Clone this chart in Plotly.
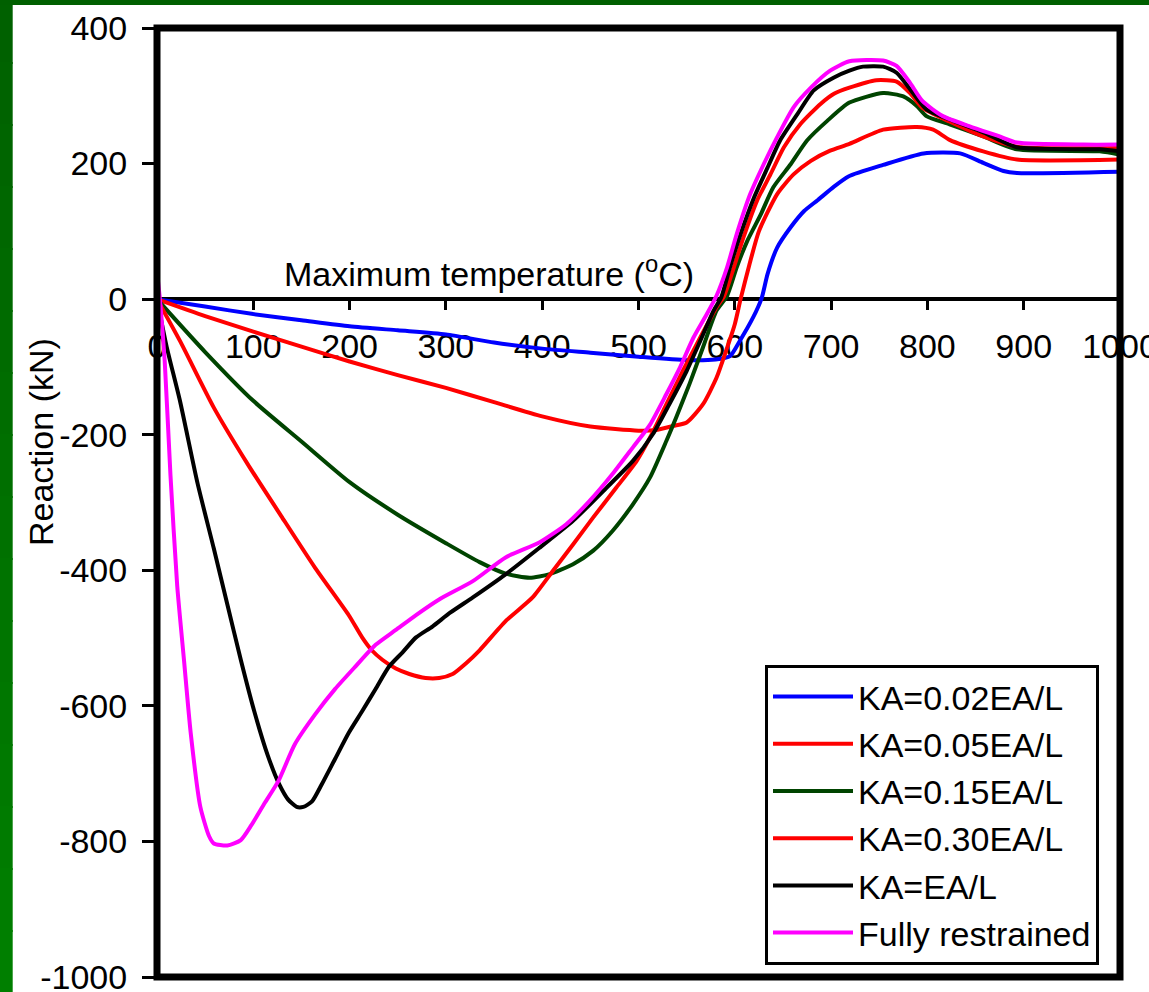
import plotly.graph_objects as go

# ---------------- data ----------------
temp_ticks = [0, 100, 200, 300, 400, 500, 600, 700, 800, 900, 1000]
reaction_ticks = [-1000, -800, -600, -400, -200, 0, 200, 400]

names = ["KA=0.02EA/L", "KA=0.05EA/L", "KA=0.15EA/L", "KA=0.30EA/L", "KA=EA/L", "Fully restrained"]
colors = ["#0000FF", "#FF0000", "#004400", "#FF0000", "#000000", "#FF00FF"]

ka002_x = [0, 50, 100, 150, 200, 250, 300, 350, 400, 450, 500, 550, 580, 595, 605, 619, 628, 634, 644, 658,
           672, 686, 703, 718, 754, 796, 834, 858, 879, 893, 1000]
ka002_y = [0, -11, -22, -31, -40, -46, -52, -64, -73, -79, -85, -90, -89, -84, -62, -27, 2, 37, 76, 106,
           130, 146, 166, 181, 198, 215, 215, 201, 189, 186, 188]

ka005_x = [0, 50, 100, 150, 200, 250, 300, 350, 400, 450, 500, 518, 536, 550, 567, 581, 591, 600,
           606, 615, 625, 644, 661, 679, 699, 719, 754, 789, 806, 823, 858, 893, 1000]
ka005_y = [0, -25, -48, -70, -92, -112, -131, -152, -173, -188, -194, -193, -187, -182, -155, -116, -76, -37,
           0, 50, 100, 155, 184, 204, 219, 229, 250, 254, 250, 235, 218, 206, 206]

ka015_x = [0, 50, 100, 150, 200, 250, 300, 335, 362, 387, 407, 432, 453, 473, 494, 512, 529, 539, 553, 567,
           581, 592, 602, 613, 627, 640, 658, 675, 696, 719, 754, 775, 789, 799, 823, 858, 893, 979, 1000]
ka015_y = [0, -78, -150, -210, -270, -318, -360, -388, -405, -411, -406, -391, -371, -342, -303, -263, -209, -175, -125, -71,
           -17, 5, 47, 86, 125, 165, 199, 234, 263, 290, 304, 299, 285, 270, 258, 240, 221, 218, 213]

ka030_x = [0, 24, 59, 94, 129, 164, 199, 213, 223, 234, 248, 262, 279, 293, 307, 321, 335, 362, 390, 411,
           432, 453, 477, 498, 512, 529, 546, 564, 581, 589, 599, 609, 623, 637, 651, 668, 689, 703, 719, 747,
           768, 782, 795, 823, 858, 893, 1000]
ka030_y = [0, -62, -160, -243, -320, -396, -466, -499, -518, -532, -545, -553, -559, -559, -553, -537, -518, -475, -440, -401,
           -362, -322, -278, -239, -204, -155, -106, -57, -12, 5, 47, 91, 145, 184, 224, 258, 288, 303, 312, 323,
           321, 304, 282, 262, 240, 225, 223]

ka1_x = [0, 10, 24, 42, 59, 73, 87, 101, 115, 127, 136, 145, 152, 161, 171, 185, 199, 213, 227, 241,
         255, 269, 286, 304, 328, 362, 397, 432, 467, 494, 515, 532, 550, 564, 578, 586, 595, 606, 620, 634,
         647, 665, 682, 703, 719, 733, 754, 768, 785, 799, 823, 858, 893, 979, 1000]
ka1_y = [0, -70, -151, -271, -368, -450, -532, -608, -673, -716, -738, -749, -749, -741, -716, -678, -640, -608, -575, -542,
         -521, -499, -483, -463, -440, -406, -367, -327, -278, -239, -199, -155, -106, -62, -17, 3, 47, 96, 150, 194,
         234, 273, 308, 327, 337, 343, 343, 334, 304, 280, 265, 246, 224, 221, 218]

full_x = [0, 3, 8, 14, 21, 28, 35, 45, 54, 59, 73, 87, 98, 112, 126, 143, 164, 185, 206, 227,
          248, 269, 293, 328, 362, 397, 425, 449, 473, 494, 512, 529, 543, 557, 571, 581, 592, 602, 616, 630,
          644, 661, 679, 699, 719, 754, 768, 782, 795, 816, 844, 875, 893, 962, 1000]
full_y = [40, 0, -91, -260, -423, -532, -640, -749, -792, -803, -806, -798, -776, -743, -711, -657, -613, -575, -542, -510,
          -488, -466, -443, -416, -381, -359, -332, -298, -258, -219, -185, -140, -101, -57, -22, 5, 47, 96, 155, 199,
          239, 283, 312, 337, 351, 352, 344, 319, 292, 270, 255, 240, 231, 228, 228]

series_x = [ka002_x, ka005_x, ka015_x, ka030_x, ka1_x, full_x]
series_y = [ka002_y, ka005_y, ka015_y, ka030_y, ka1_y, full_y]

# ---------------- layout geometry ----------------
W, H = 1149, 992
ML, MR, MT, MB = 157, 29, 28, 15
PL, PR, PT, PB = ML, W - MR, MT, H - MB
FONT = "Liberation Sans, Arial, sans-serif"
FS = 34


def fx(px):
    return (px - PL) / (PR - PL)


def fy(py):
    return (PB - py) / (PB - PT)


fig = go.Figure()
for nm, col, xs, ys in zip(names, colors, series_x, series_y):
    fig.add_trace(go.Scatter(
        x=xs, y=ys, mode="lines", name=nm, legendgroup=nm,
        line=dict(color=col, width=4, shape="spline", smoothing=0.6),
    ))

shapes = []
# green frame (top band + left band with a vertical gradient)
nseg = 16
for i in range(nseg):
    y0p = H * i / nseg
    y1p = min(H, H * (i + 1) / nseg + 2)
    g = int(0x60 + (0x80 - 0x60) * (i + 0.5) / nseg)
    shapes.append(dict(type="rect", xref="paper", yref="paper", x0=fx(-2), x1=fx(12.7),
                       y0=fy(y1p), y1=fy(y0p), line=dict(width=0),
                       fillcolor="#00%02X00" % g, layer="below"))
shapes.append(dict(type="rect", xref="paper", yref="paper", x0=fx(-2), x1=fx(W + 2), y0=fy(5), y1=fy(-2),
                   line=dict(width=0), fillcolor="#006000", layer="below"))
# thick plot frame
shapes.append(dict(type="rect", xref="paper", yref="paper", x0=0, x1=1, y0=0, y1=1,
                   line=dict(color="black", width=7), layer="above"))

annotations = [
    dict(text="Maximum temperature (<sup>o</sup>C)", xref="paper", yref="y", x=fx(489), y=0,
         xanchor="center", yanchor="bottom", showarrow=False, yshift=4,
         font=dict(family=FONT, size=FS, color="black")),
    dict(text="Reaction (kN)", xref="paper", yref="paper", x=fx(41), y=fy(442), textangle=-90,
         xanchor="center", yanchor="middle", showarrow=False,
         font=dict(family=FONT, size=FS, color="black")),
]

fig.update_layout(
    width=W, height=H, autosize=False,
    margin=dict(l=ML, r=MR, t=MT, b=MB, pad=0, autoexpand=False),
    paper_bgcolor="white", plot_bgcolor="white",
    font=dict(family=FONT, size=FS, color="black"),
    shapes=shapes, annotations=annotations,
    showlegend=True,
    legend=dict(x=fx(765), y=fy(665), xanchor="left", yanchor="top",
                bgcolor="white", bordercolor="black", borderwidth=3,
                font=dict(family=FONT, size=FS, color="black"),
                itemwidth=80, tracegroupgap=4, traceorder="normal"),
    xaxis=dict(range=[0, 1000], anchor="free", position=1000 / 1400, automargin=False,
               tickmode="array", tickvals=temp_ticks, ticktext=[str(v) for v in temp_ticks],
               ticks="outside", ticklen=10, tickwidth=3, tickcolor="black",
               showline=False, showgrid=False, zeroline=False, layer="below traces",
               ticklabelstandoff=7, ticklabeloverflow="allow",
               tickfont=dict(family=FONT, size=FS, color="black")),
    yaxis=dict(range=[-1000, 400], tickmode="array", tickvals=reaction_ticks, automargin=False,
               ticktext=[str(v) for v in reaction_ticks],
               ticks="outside", ticklen=14, tickwidth=2.5, tickcolor="black",
               showline=False, showgrid=False, zeroline=True, zerolinecolor="black", zerolinewidth=4,
               ticklabelstandoff=8, ticklabeloverflow="allow",
               tickfont=dict(family=FONT, size=FS, color="black")),
)

fig.write_html("out.html")
